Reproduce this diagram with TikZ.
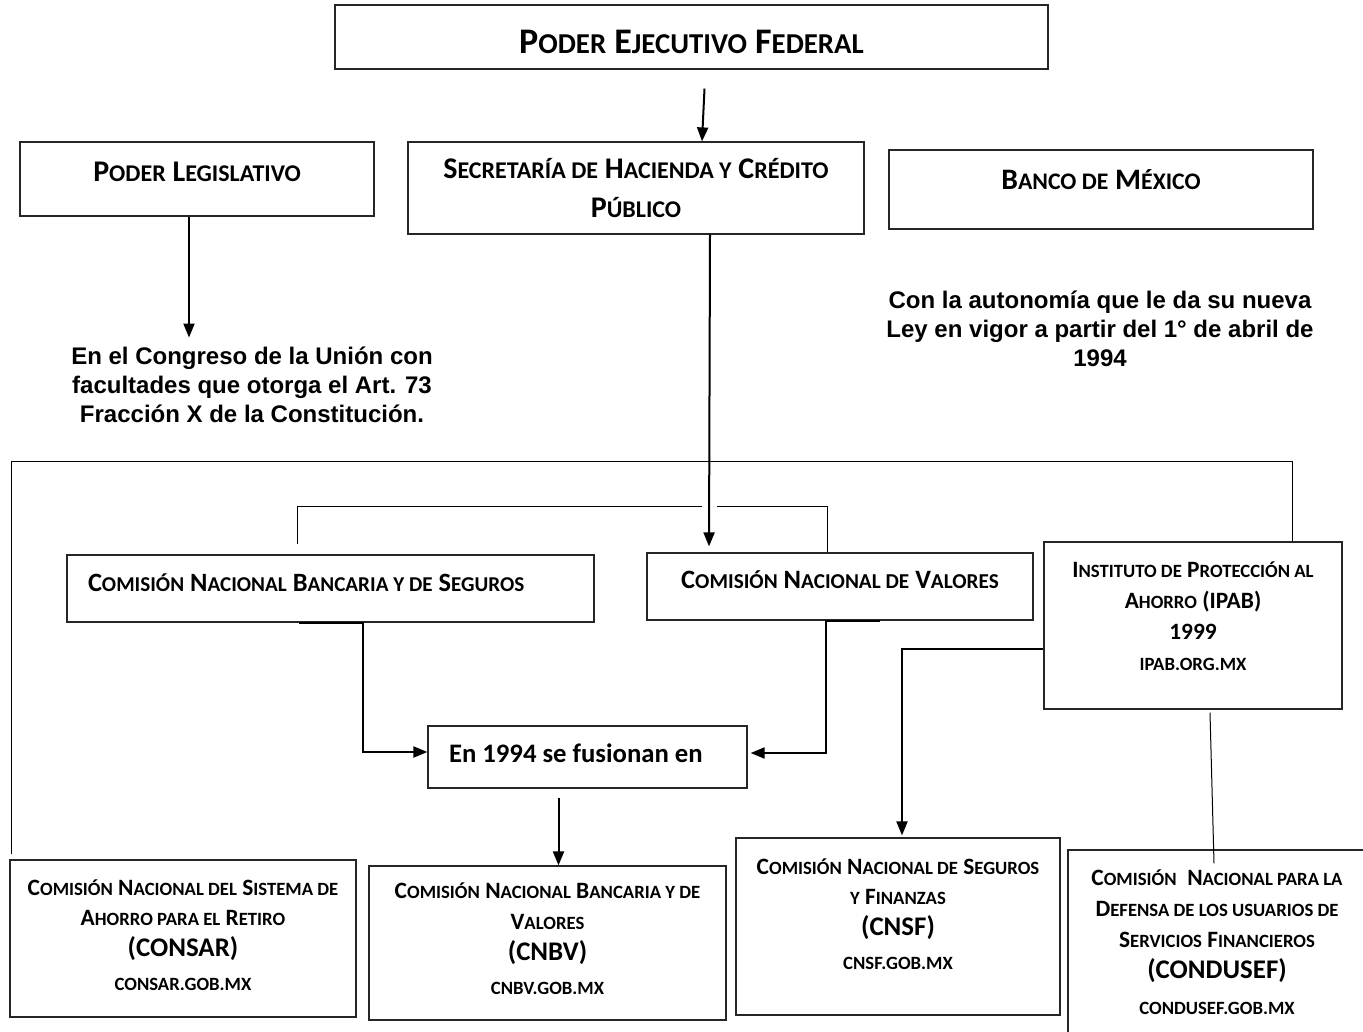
\documentclass[tikz,border=0pt]{standalone}
\usepackage{fontspec}
\setmainfont{Carlito}
\newfontfamily\arial{Liberation Sans}
\usetikzlibrary{arrows.meta}
\makeatletter
% small caps made from capitals at 80 %
\newcommand\sk[1]{{\fontsize{\fpeval{0.8*\f@size}}{\f@baselineskip}\selectfont\MakeUppercase{#1}}}
% acronym line, a little larger
\newcommand\acr[1]{{\fontsize{\fpeval{1.15*\f@size}}{\f@baselineskip}\selectfont#1}}
\makeatother

\begin{document}
\begin{tikzpicture}[x=1pt,y=-1pt,
    box/.style={draw=black!85,line width=1.2pt,align=center,inner sep=0pt},
    lbox/.style={box,align=flush left,inner xsep=21pt,text width=#1},
    fs/.style={font=\bfseries\fontsize{#1}{\fpeval{1.32*#1}}\selectfont},
    arr/.style={line width=2pt,-{Triangle[length=14pt,width=11pt]}},
    link/.style={line width=1pt},
    note/.style={align=center,font=\arial\bfseries\fontsize{24}{29}\selectfont}]
  \useasboundingbox (0,0) rectangle (1363,1032);
  % top row
  \node[box,fs=36,text height=33pt,text depth=0pt,minimum width=713pt,minimum height=64pt] (ejec) at (691.5,37)
    {P\sk{oder} E\sk{jecutivo} F\sk{ederal}};
  \node[box,fs=30,text depth=14pt,minimum width=354pt,minimum height=74pt] (legis) at (197,179)
    {P\sk{oder} L\sk{egislativo}};
  \node[box,fs=30,minimum width=456pt,minimum height=92pt] (shcp) at (636,188)
    {S\sk{ecretaría de} H\sk{acienda y} C\sk{rédito}\\[-1.5pt]P\sk{úblico}};
  \node[box,fs=29.7,text depth=20pt,minimum width=424pt,minimum height=79pt] (banco) at (1101,189.5)
    {B\sk{anco de} M\sk{éxico}};
  \node[note] (congreso) at (252,385)
    {En el Congreso de la Unión con\\facultades que otorga el Art. 73\\Fracción X de la Constitución.};
  \node[note] (autonomia) at (1100,329)
    {Con la autonomía que le da su nueva\\Ley en vigor a partir del 1° de abril de\\1994};
  % middle row
  \node[lbox=485pt,fs=26.4,text depth=12pt,minimum width=527pt,minimum height=67pt] (cnbs) at (330.5,588.5)
    {C\sk{omisión} N\sk{acional} B\sk{ancaria y de} S\sk{eguros}};
  \node[box,fs=26.5,text depth=14pt,minimum width=386pt,minimum height=67pt] (cnv) at (840,586.5)
    {C\sk{omisión} N\sk{acional de} V\sk{alores}};
  \node[box,fs=23.4,text depth=19pt,minimum width=298pt,minimum height=167pt] (ipab) at (1193,625.5)
    {I\sk{nstituto de} P\sk{rotección al}\\A\sk{horro} (IPAB)\\1999\\\sk{ipab.org.mx}};
  \node[lbox=277pt,fs=26.7,text depth=8pt,minimum width=319pt,minimum height=62pt] (fusion) at (587.5,757)
    {En 1994 se fusionan en};
  % bottom row
  \node[box,fs=23.4,text depth=7pt,minimum width=346pt,minimum height=157pt] (consar) at (183,938.5)
    {C\sk{omisión} N\sk{acional del} S\sk{istema de}\\A\sk{horro para el} R\sk{etiro}\\\acr{(CONSAR)}\\[3pt]\sk{consar.gob.mx}};
  \node[box,fs=23.4,text depth=9pt,minimum width=357pt,minimum height=154pt] (cnbv) at (547.5,943)
    {C\sk{omisión} N\sk{acional} B\sk{ancaria y de}\\V\sk{alores}\\\acr{(CNBV)}\\[3pt]\sk{cnbv.gob.mx}};
  \node[box,fs=23.4,text depth=25pt,minimum width=324pt,minimum height=177pt] (cnsf) at (898,926.5)
    {C\sk{omisión} N\sk{acional de} S\sk{eguros}\\\sk{y} F\sk{inanzas}\\\acr{(CNSF)}\\[3pt]\sk{cnsf.gob.mx}};
  \node[box,fs=23.4,text depth=11pt,minimum width=298pt,minimum height=195pt] (condusef) at (1217,947.5)
    {C\sk{omisión}\ \ N\sk{acional para la}\\D\sk{efensa de los usuarios de}\\S\sk{ervicios} F\sk{inancieros}\\\acr{(CONDUSEF)}\\[5pt]\sk{condusef.gob.mx}};
  % connectors
  \coordinate (bar) at (0,461);
  \coordinate (rgt) at ([xshift=-50pt]ipab.north east);
  \path ([xshift=74pt]shcp.south) ++(0,272) coordinate (cross);
  \draw[arr] ([xshift=13pt,yshift=-19pt]ejec.south) -- ([xshift=66pt]shcp.north);
  \draw[arr,shorten >=6pt] ([xshift=-8pt]legis.south) -- ([xshift=-8pt]legis.south |- congreso.north);
  \draw[arr,shorten >=6pt] ([xshift=74pt]shcp.south) -- ([xshift=-131pt]cnv.north);
  \draw[link] ([shift={(2pt,5pt)}]consar.north west) |- (bar -| rgt) -- (rgt);
  \draw[link] ([shift={(-33pt,10pt)}]cnbs.north) |- ([xshift=-8pt]cross);
  \draw[link] ([xshift=7pt]cross) -| ([xshift=-13pt]cnv.north);
  \draw[arr] ([xshift=-32pt]cnbs.south) -- ++(64,0) |- ([yshift=5pt]fusion.west);
  \draw[arr,shorten >=3pt] ([xshift=40pt]cnv.south) -- ++(-54,0) |- ([yshift=4pt]fusion.east);
  \draw[arr] ([shift={(-29pt,-9pt)}]fusion.south) -- ([xshift=11pt]cnbv.north);
  \draw[arr,shorten >=2pt] ([yshift=-23pt]ipab.west) -| ([xshift=4pt]cnsf.north);
  \draw[link] ([xshift=17pt,yshift=-3pt]ipab.south) -- ([xshift=-3pt,yshift=-14pt]condusef.north);
\end{tikzpicture}
\end{document}
